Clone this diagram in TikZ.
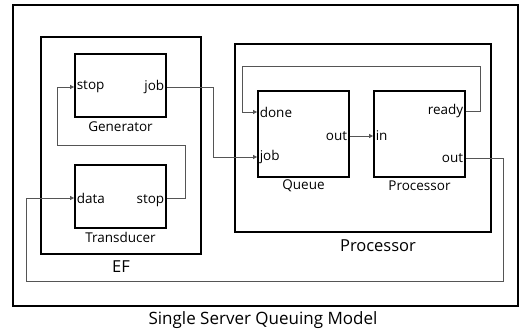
\documentclass[tikz,border=0pt]{standalone}
\usepackage{fontspec}
\setmainfont{Open Sans}
\usepackage{tikz}
\usetikzlibrary{arrows.meta,calc}
\definecolor{wire}{HTML}{555555}
\tikzset{
  frame/.style={draw=black, line width=1.4pt},
  blk/.style={draw=black, line width=1.8pt, inner sep=0pt, minimum width=91pt},
  con/.style={draw=wire, line width=0.9pt, -{Triangle[length=4pt,width=4pt]}},
  port/.style={font=\fontsize{13.5}{15}\selectfont, inner sep=2.5pt},
  mname/.style={font=\fontsize{13.5}{15}\selectfont},
  big/.style={font=\fontsize{16.5}{19}\selectfont},
}

\begin{document}
\begin{tikzpicture}[x=1pt,y=-1pt]
  \useasboundingbox (0,0) rectangle (520,331);
  % frames
  \node[frame, minimum width=505pt, minimum height=301pt] (top) at (265.5,155.5) {};
  \node[blk, minimum width=160pt, minimum height=217pt] (ef) at (121,145.5) {};
  \node[blk, minimum width=256pt, minimum height=188pt] (proc) at (363,138) {};
  % atomic models
  \node[blk, minimum height=63pt] (gen) at (120.5,85.5) {};
  \node[blk, minimum height=63pt] (trans) at (120.5,196.5) {};
  \node[blk, minimum height=86pt] (queue) at (303.5,134) {};
  \node[blk, minimum height=86pt] (srv) at (419.5,134) {};
  % names
  \node[mname] (genname) at (120.5,127) {Generator};
  \node[mname] (transname) at (120.5,237) {Transducer};
  \node[mname] (queuename) at (303.5,186) {Queue};
  \node[mname] (srvname) at (419.5,186) {Processor};
  \node[big] (efname) at (121,267) {EF};
  \node[big] (procname) at (378,246) {Processor};
  \node[big, font=\fontsize{17}{20}\selectfont] (topname) at (263,320) {Single Server Queuing Model};
  % ports
  \coordinate (gen-stop) at (gen.west |- 0,87);
  \coordinate (gen-job) at (gen.east |- 0,87);
  \coordinate (trans-data) at (trans.west |- 0,198);
  \coordinate (trans-stop) at (trans.east |- 0,198);
  \coordinate (queue-done) at (queue.west |- 0,112);
  \coordinate (queue-job) at (queue.west |- 0,157);
  \coordinate (queue-out) at (queue.east |- 0,136);
  \coordinate (srv-in) at (srv.west |- 0,136);
  \coordinate (srv-ready) at (srv.east |- 0,111);
  \coordinate (srv-out) at (srv.east |- 0,158);
  \foreach \P/\T in {gen-stop/stop,trans-data/data,queue-done/done,queue-job/job,srv-in/in}
    \node[port, anchor=west] at (\P) {\T};
  \foreach \P/\T in {gen-job/job,queue-out/out,srv-ready/ready,srv-out/out}
    \node[port, anchor=east] at (\P) {\T};
  \node[port, anchor=east] at ($(trans-stop)+(0,3)$) {stop};
  % couplings
  \draw[con] (gen-job) -- ++(47,0) |- (queue-job);
  \draw[con] (trans-stop) -- ++(19,0) -- ++(0,-53) -| ($(gen-stop)+(-17,0)$) -- (gen-stop);
  \draw[con] (srv-ready) -- ++(15,0) -- ++(0,-45) -| ($(queue-done)+(-15,0)$) -- (queue-done);
  \draw[con] (queue-out) -- (srv-in);
  \draw[con] (srv-out) -- ++(38,0) -- ++(0,123) -| ($(trans-data)+(-48,0)$) -- (trans-data);
\end{tikzpicture}
\end{document}
